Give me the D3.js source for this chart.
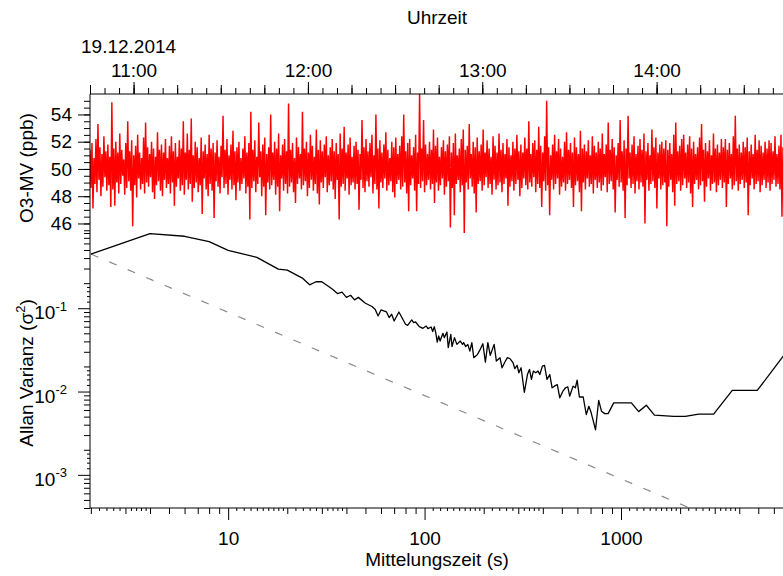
<!DOCTYPE html>
<html><head><meta charset="utf-8">
<script src="https://cdn.jsdelivr.net/npm/d3@7"></script>
<style>
body{margin:0;background:#fff}
svg{display:block;font-family:"Liberation Sans",Arial,Helvetica,sans-serif}
</style></head><body>
<svg id="chart" width="783" height="576"></svg>
<script>
// ---------------- data ----------------
const dateLabel = "19.12.2014";
const timeStart = "2014-12-19T10:45:00Z";
const timeEnd = "2014-12-19T14:43:30Z";
const o3StepSeconds = 20.5;
const o3Values = [
51.4,48.6,51.9,47.1,50.8,48.9,52.2,48.3,53.3,49.2,51.6,48.0,51.1,48.7,52.4,49.4,51.3,48.4,51.8,48.8,
50.9,47.2,54.9,48.5,51.5,47.3,52.0,49.0,51.2,48.2,52.6,48.9,51.4,49.5,50.7,48.1,51.9,48.6,53.5,49.1,
51.3,48.4,52.1,45.8,51.0,48.8,51.7,47.9,52.5,49.3,51.2,48.5,50.8,48.9,52.3,48.2,53.4,49.0,51.6,48.7,
51.1,49.4,52.0,48.3,51.5,47.8,50.9,48.8,52.7,49.1,51.4,48.4,51.8,48.0,51.2,49.2,52.2,48.6,50.8,48.9,
51.7,48.2,52.4,49.0,51.3,47.3,51.9,48.7,50.9,49.3,52.1,48.4,51.5,48.8,53.5,48.1,51.2,49.2,52.6,48.5,
51.4,48.9,53.7,47.6,51.0,48.6,52.0,49.0,51.6,48.3,50.8,48.8,52.3,46.7,51.3,49.3,51.8,48.5,51.1,48.0,
52.5,48.9,51.5,48.4,51.9,46.4,51.2,49.1,52.1,48.7,50.9,48.2,51.7,49.4,53.9,48.6,51.4,48.9,52.2,48.1,
51.0,49.2,51.8,48.5,52.8,48.8,51.3,47.7,51.6,49.0,52.0,48.4,50.8,48.9,51.5,49.3,52.4,48.2,51.2,48.7,
51.9,46.3,54.2,48.6,51.4,49.1,52.1,48.3,50.9,48.9,53.4,49.4,51.3,48.0,51.8,48.7,52.3,46.6,51.1,49.0,
51.6,48.5,54.0,48.8,51.2,49.2,52.0,48.1,51.5,48.7,52.6,46.9,51.0,49.3,51.8,48.4,52.2,48.9,51.3,48.2,
54.8,48.7,51.4,49.0,51.9,48.3,50.8,47.5,52.3,48.9,51.6,49.3,51.1,48.5,54.2,48.8,51.5,49.1,52.0,48.0,
51.2,48.6,52.5,49.2,51.7,48.4,50.9,48.9,52.9,48.2,51.4,47.4,52.1,49.0,51.3,48.6,51.8,49.4,52.4,48.3,
51.0,48.8,51.6,49.1,52.2,48.5,51.3,47.8,51.9,49.2,51.1,46.3,52.6,48.7,51.5,48.9,53.1,48.4,51.2,49.3,
51.8,48.1,52.3,48.8,50.9,49.0,51.7,48.5,52.0,48.9,51.4,47.0,51.1,49.2,53.6,48.6,51.6,48.3,52.2,49.1,
51.3,48.7,51.9,49.4,52.5,48.2,51.0,48.9,54.0,48.5,51.5,47.1,52.1,49.0,51.2,48.6,51.8,49.3,52.7,48.4,
51.4,48.8,50.8,49.1,52.0,48.3,51.6,47.9,52.3,48.9,51.1,49.2,51.7,48.5,52.4,48.7,54.0,49.0,51.3,48.2,
51.9,46.9,52.2,48.8,51.0,49.3,51.6,48.4,52.5,46.9,51.2,48.9,55.6,48.6,51.5,49.1,53.6,48.3,51.8,48.8,
51.1,49.2,52.0,48.5,51.4,48.9,52.9,47.5,51.7,49.0,52.3,48.4,50.9,48.8,51.6,49.3,52.1,48.1,51.3,48.7,
51.8,49.1,52.4,45.7,51.2,48.6,51.9,46.6,52.6,48.9,51.0,49.2,51.5,48.3,52.2,48.8,52.9,45.2,51.4,49.0,
51.7,48.5,53.3,49.3,51.1,48.7,52.0,48.2,51.6,46.8,52.3,48.9,51.3,49.1,51.8,48.4,52.9,48.8,51.2,49.4,
52.1,48.6,51.5,48.9,50.9,48.1,52.4,49.2,51.7,48.5,51.2,48.8,52.6,49.0,51.4,48.3,51.9,48.9,51.1,49.3,
52.2,47.3,51.6,48.7,51.0,49.1,52.0,48.4,51.5,48.9,52.5,49.2,51.3,48.0,51.8,48.6,51.2,49.3,52.3,48.8,
51.5,48.5,53.5,49.0,51.1,48.7,51.9,49.4,52.1,48.3,51.4,48.9,53.1,48.6,51.7,47.2,51.2,49.1,52.4,48.4,
55.0,48.8,51.6,46.6,51.0,49.2,51.8,48.5,52.5,48.9,51.3,49.3,52.2,48.1,51.5,48.7,50.9,49.0,52.0,48.4,
52.7,48.9,51.4,49.2,51.9,48.6,51.2,47.2,52.3,48.8,51.6,49.1,51.1,48.3,52.8,46.9,51.5,49.0,51.8,48.5,
51.3,49.3,52.1,48.7,51.0,48.9,52.4,48.2,51.7,49.2,51.2,48.6,52.0,49.0,51.5,48.4,52.6,48.8,51.1,49.4,
51.8,48.3,53.4,48.9,51.4,49.1,52.2,48.5,51.6,46.8,51.0,49.2,51.9,48.7,53.6,49.0,51.3,48.4,52.1,46.4,
51.5,48.8,53.9,49.3,51.2,48.6,51.8,48.9,52.4,48.2,51.1,49.1,51.7,48.5,52.2,49.0,51.4,48.7,52.6,46.0,
51.3,49.2,51.9,48.4,51.0,48.9,52.9,49.1,51.6,48.6,52.3,47.1,51.2,49.3,51.8,48.5,52.0,48.8,51.5,49.0,
52.1,45.8,51.4,48.7,51.9,49.2,51.1,48.3,52.5,47.3,53.4,48.9,51.3,49.1,51.7,48.4,52.2,48.8,52.5,49.3,
51.2,48.6,51.8,49.0,52.4,48.2,51.5,47.2,52.0,48.9,51.1,49.2,51.6,48.5,52.3,48.8,53.3,49.1,51.4,47.6,
51.9,48.7,51.3,49.3,52.1,48.4,51.0,48.9,52.6,49.0,51.5,48.3,51.8,48.8,51.2,49.2,52.2,48.6,51.6,49.0,
52.2,47.2,51.4,48.9,51.9,49.3,51.1,48.5,52.4,48.8,53.9,49.1,51.5,48.4,51.8,48.9,51.2,49.2,52.0,48.6,
51.6,49.0,52.3,46.6,51.3,48.8,51.8,49.3,51.1,48.5,52.5,48.9,51.4,49.1,52.1,48.3,51.7,48.8,51.2,49.2,
52.0,48.6,51.5,49.0,52.1,48.4,51.9,48.9,51.3,49.2,52.4,48.7,51.1,48.9,51.7,48.5,52.5,46.5,51.6,48.8
];
const hourTickLabels = ["11:00","12:00","13:00","14:00"];
const o3TickValues = [46,48,50,52,54];

const tauValues = [
2,4,6,8,10,14,18,20,24,26,
28,30,34,36,38,40,42,44,46,50,
54,56,58,60,64,66,68,70,74,80,
82,86,88,90,94,98,102,104,108,110,
112,114,116,118,120,124,126,130,132,136,
138,142,146,152,156,158,162,166,170,174,
178,186,192,198,204,210,216,226,232,242,
248,256,264,272,282,288,296,302,310,322,
334,342,350,358,368,378,386,398,408,420,
434,446,458,474,488,506,522,536,548,570,
586,598,614,642,666,686,704,718,742,770,
796,826,860,918,1130,1230,1346,1480,1854,2126,
2484,2962,3686,4940,6698
];
const allanValues = [
0.447,0.786,0.731,0.630,0.496,0.408,0.295,0.287,0.228,0.191,
0.208,0.208,0.169,0.150,0.156,0.135,0.143,0.126,0.135,0.1149,
0.1048,0.0973,0.0808,0.0954,0.0902,0.0773,0.0847,0.0703,0.0902,0.0642,
0.0624,0.0723,0.0672,0.0684,0.0602,0.0574,0.0612,0.0569,0.0595,0.0524,
0.0602,0.0509,0.0393,0.0464,0.0404,0.0500,0.0444,0.0518,0.0336,0.0486,
0.0346,0.0444,0.0368,0.0404,0.0368,0.0386,0.0346,0.0368,0.0306,0.0386,
0.0255,0.0279,0.0321,0.0375,0.0225,0.0386,0.0272,0.0368,0.0232,0.0255,
0.0193,0.0225,0.0255,0.0248,0.0222,0.0188,0.0206,0.0168,0.0193,0.0098,
0.0160,0.0184,0.0140,0.0176,0.0168,0.0176,0.0160,0.0202,0.0206,0.0140,
0.0160,0.0111,0.0116,0.0121,0.0084,0.0101,0.0111,0.0114,0.0088,0.0116,
0.0111,0.0137,0.0086,0.0086,0.00528,0.00665,0.00563,0.00469,0.00348,0.00785,
0.00579,0.00543,0.00543,0.00731,0.00731,0.00574,0.00684,0.00521,0.00503,0.00503,
0.00536,0.00536,0.0103,0.0103,0.0266
];
const whiteNoiseTau = [2, 2240];
const whiteNoiseVar = [0.447, 0.0004];
const tauTickValues = [10, 100, 1000];
const varTickValues = [0.001, 0.01, 0.1];

// ---------------- layout ----------------
const left = 90, right = 783;
const topY = 94, splitY = 233, bottomY = 508;
const FONT = 19;
const svg = d3.select("#chart");

const xTime = d3.scaleUtc().domain([new Date(timeStart), new Date(timeEnd)]).range([left, right]);
const yO3 = d3.scaleLinear().domain([45.3, 55.5]).range([splitY, topY]);
const xTau = d3.scaleLog().domain([1.98, 6680]).range([left, right]);
const yVar = d3.scaleLog().domain([0.0004, 0.8]).range([bottomY, splitY]);

const defs = svg.append("defs");
defs.append("clipPath").attr("id", "clipTop").append("rect")
  .attr("x", left).attr("y", topY).attr("width", right - left).attr("height", splitY - topY);
defs.append("clipPath").attr("id", "clipBot").append("rect")
  .attr("x", left).attr("y", splitY - 2).attr("width", right - left).attr("height", bottomY - splitY + 2);

// ---------------- marks ----------------
const t0 = new Date(timeStart).getTime();
const o3Data = o3Values.map((v, i) => ({ t: new Date(t0 + i * o3StepSeconds * 1000), v }));
svg.append("path").datum(o3Data)
  .attr("clip-path", "url(#clipTop)")
  .attr("fill", "none").attr("stroke", "#ff0000").attr("stroke-width", 1.45)
  .attr("stroke-linejoin", "bevel")
  .attr("d", d3.line().x(d => xTime(d.t)).y(d => yO3(d.v)));

const wnData = whiteNoiseTau.map((t, i) => ({ t, v: whiteNoiseVar[i] }));
svg.append("path").datum(wnData)
  .attr("clip-path", "url(#clipBot)")
  .attr("fill", "none").attr("stroke", "#8a8a8a").attr("stroke-width", 1.2)
  .attr("stroke-dasharray", "8,12")
  .attr("d", d3.line().x(d => xTau(d.t)).y(d => yVar(d.v)));

const allanData = tauValues.map((t, i) => ({ t, v: allanValues[i] }));
svg.append("path").datum(allanData)
  .attr("clip-path", "url(#clipBot)")
  .attr("fill", "none").attr("stroke", "#000").attr("stroke-width", 1.3)
  .attr("stroke-linejoin", "round")
  .attr("d", d3.line().x(d => xTau(d.t)).y(d => yVar(d.v)));

// ---------------- axes ----------------
function styleAxis(g) {
  g.attr("font-size", FONT).attr("font-family", '"Liberation Sans",Arial,Helvetica,sans-serif');
  g.select(".domain").remove();
  g.selectAll(".tick line").attr("stroke", "#000");
  g.selectAll(".tick text").attr("fill", "#000");
}

// top time axis
const hourTimes = hourTickLabels.map(s => new Date(`2014-12-19T${s}:00Z`));
const q15 = d3.utcMinute.every(15).range(xTime.domain()[0], xTime.domain()[1]);
const m5 = d3.utcMinute.every(5).range(xTime.domain()[0], xTime.domain()[1]);
svg.append("g").attr("transform", `translate(0,${topY})`)
  .call(d3.axisTop(xTime).tickValues(m5).tickSize(6).tickFormat(""))
  .call(styleAxis);
svg.append("g").attr("transform", `translate(0,${topY})`)
  .call(d3.axisTop(xTime).tickValues(q15).tickSize(9).tickFormat(""))
  .call(styleAxis);
svg.append("g").attr("transform", `translate(0,${topY})`)
  .call(d3.axisTop(xTime).tickValues(hourTimes).tickSize(12).tickPadding(5)
    .tickFormat(d3.utcFormat("%H:%M")))
  .call(styleAxis);

// left O3 axis
const o3Minor = d3.range(45.5, 55.4, 0.5);
svg.append("g").attr("transform", `translate(${left},0)`)
  .call(d3.axisLeft(yO3).tickValues(o3Minor).tickSize(6).tickFormat(""))
  .call(styleAxis);
svg.append("g").attr("transform", `translate(${left},0)`)
  .call(d3.axisLeft(yO3).tickValues(o3TickValues).tickSize(12).tickPadding(6)
    .tickFormat(d3.format("d")))
  .call(styleAxis);

// log tick helpers
function logMinor(domain) {
  const mid = [], small = [];
  for (let e = -5; e <= 4; e++) {
    const d = Math.pow(10, e);
    for (let m = 2; m <= 9; m++) mid.push(m * d);
    for (let k = 11; k <= 19; k++) small.push(k / 10 * d);
    for (let k = 22; k <= 38; k += 2) if (k !== 30) small.push(k / 10 * d);
  }
  const inDom = v => v >= domain[0] && v <= domain[1];
  return { mid: mid.filter(inDom), small: small.filter(inDom) };
}
function logMinorY(domain) {
  const mid = [], small = [];
  for (let e = -5; e <= 2; e++) {
    const d = Math.pow(10, e);
    for (let m = 2; m <= 9; m++) mid.push(m * d);
    for (let k = 12; k <= 18; k += 2) small.push(k / 10 * d);
  }
  const inDom = v => v >= domain[0] && v <= domain[1];
  return { mid: mid.filter(inDom), small: small.filter(inDom) };
}

// bottom tau axis
const tm = logMinor(xTau.domain());
svg.append("g").attr("transform", `translate(0,${bottomY})`)
  .call(d3.axisBottom(xTau).tickValues(tm.small).tickSize(3).tickFormat(""))
  .call(styleAxis);
svg.append("g").attr("transform", `translate(0,${bottomY})`)
  .call(d3.axisBottom(xTau).tickValues(tm.mid).tickSize(6).tickFormat(""))
  .call(styleAxis);
svg.append("g").attr("transform", `translate(0,${bottomY})`)
  .call(d3.axisBottom(xTau).tickValues(tauTickValues).tickSize(12).tickPadding(12)
    .tickFormat(d3.format("d")))
  .call(styleAxis);

// left variance axis
const vm = logMinorY(yVar.domain());
svg.append("g").attr("transform", `translate(${left},0)`)
  .call(d3.axisLeft(yVar).tickValues(vm.small).tickSize(3).tickFormat(""))
  .call(styleAxis);
svg.append("g").attr("transform", `translate(${left},0)`)
  .call(d3.axisLeft(yVar).tickValues(vm.mid).tickSize(6).tickFormat(""))
  .call(styleAxis);
svg.append("g").attr("transform", `translate(${left},0)`)
  .call(d3.axisLeft(yVar).tickValues(varTickValues).tickSize(12).tickFormat(""))
  .call(styleAxis);
varTickValues.forEach(v => {
  const t = svg.append("text")
    .attr("x", left - 23).attr("y", yVar(v) + 11)
    .attr("text-anchor", "end").attr("font-size", FONT).attr("fill", "#000");
  t.append("tspan").text("10");
  t.append("tspan").attr("dy", -8.5).attr("font-size", 13).text(String(Math.round(Math.log10(v))));
});

// axis lines
const lines = svg.append("g").attr("stroke", "#000").attr("stroke-width", 1);
lines.append("line").attr("x1", left).attr("x2", right).attr("y1", topY).attr("y2", topY);
lines.append("line").attr("x1", left).attr("x2", left).attr("y1", topY).attr("y2", bottomY);
lines.append("line").attr("x1", left).attr("x2", right).attr("y1", bottomY).attr("y2", bottomY);

// ---------------- titles ----------------
svg.append("text").attr("x", 437).attr("y", 24).attr("text-anchor", "middle")
  .attr("font-size", FONT).text("Uhrzeit");
svg.append("text").attr("x", 81).attr("y", 53).attr("font-size", FONT).text(dateLabel);
svg.append("text").attr("x", 437).attr("y", 566).attr("text-anchor", "middle")
  .attr("font-size", FONT).text("Mittelungszeit (s)");
svg.append("text").attr("transform", "translate(33,168) rotate(-90)")
  .attr("text-anchor", "middle").attr("font-size", FONT).text("O3-MV (ppb)");
const yl = svg.append("text").attr("transform", "translate(33,373) rotate(-90)")
  .attr("text-anchor", "middle").attr("font-size", FONT);
yl.append("tspan").text("Allan Varianz (σ");
yl.append("tspan").attr("dy", -8).attr("font-size", 13).text("2");
yl.append("tspan").attr("dy", 8).text(")");
</script>
</body></html>
